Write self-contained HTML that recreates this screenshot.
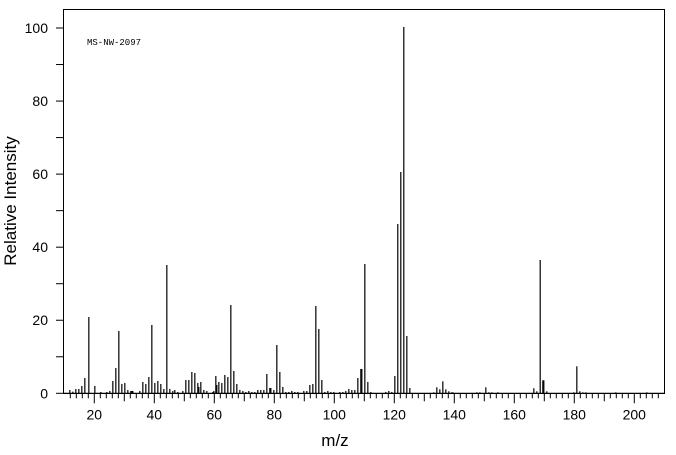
<!DOCTYPE html>
<html><head><meta charset="utf-8"><style>
html,body{margin:0;padding:0;background:#fff;}
svg{display:block;font-family:"Liberation Sans",sans-serif;}
</style></head><body>
<svg id="s" width="676" height="455" xmlns="http://www.w3.org/2000/svg">
<rect x="63.5" y="9.5" width="601" height="384" fill="none" stroke="#000" stroke-width="1"/>
<text x="87" y="45" font-family="Liberation Mono,monospace" font-size="9">MS-NW-2097</text>
<text x="335" y="446" font-size="17" text-anchor="middle">m/z</text>
<text transform="translate(16,201) rotate(-90)" font-size="17" text-anchor="middle">Relative Intensity</text>
<g id="g" stroke="#000"></g>
</svg>
<script>
var g=document.getElementById('g'),s=document.getElementById('s'),NS='http://www.w3.org/2000/svg';
function L(x1,y1,x2,y2,w){var l=document.createElementNS(NS,'line');l.setAttribute('x1',x1);l.setAttribute('y1',y1);l.setAttribute('x2',x2);l.setAttribute('y2',y2);l.setAttribute('stroke-width',w||1);g.appendChild(l);}
function T(x,y,t,a){var e=document.createElementNS(NS,'text');e.setAttribute('x',x);e.setAttribute('y',y);e.setAttribute('font-size','14');e.setAttribute('text-anchor',a);e.textContent=t;s.appendChild(e);}
var B=393.3;
for(var v=0;v<=100;v+=10){var y=B-v*3.653;L(56,y,63,y);if(v%20==0)T(48,y+5,v,'end');}
for(var m=12;m<=210;m+=2){var x=34.3+3*m;if(x>664)break;var len=m%20==0?10:(m%10==0?8:5);L(x,B,x,B+len);if(m%20==0)T(x,B+26,m,'middle');}
L(63,B,665,B);
function add(ox,oy,base,arr){for(var i=0;i<arr.length;i+=2){var x=ox+arr[i]/3+0.5,h=(base-arr[i+1])/3;L(x,B,x,B-h,1.2);}}
add(50,250,430,[58,420,67,425,76,417,85,417,94,408,103,384,115,201,133,408,151,426,169,426,178,423,187,393,196,354,205,243,214,402,223,399,232,420,241,423,244,423,247,423,268,423,277,396,286,402,295,381,304,225,313,399,322,393,331,402,340,417,349,45,358,417,367,423,373,420,382,426,397,423,406,390,415,390,424,366,433,369,442,399,445,411,451,396,460,420,469,423,487,426,490,423,496,378,499,405,505,396,514,399,523,375,532,381,541,165,550,363,559,402,568,420,577,423,586,426,595,423]);
add(240,250,430,[34,426,43,426,52,420,61,420,70,420,79,372,88,414,91,414,100,420,109,285,118,366,127,411,136,426,145,426,154,423,163,426,172,426,190,423,199,423,208,405,217,402,226,168,235,237,244,390,253,426,262,423,271,426,280,426,298,426,307,426,316,423,325,417,334,420,343,420,352,384,361,357,364,357,373,42,382,396,391,426,436,426,445,423,454,426,463,378,499,258,508,414]);
L(397.8,B,397.8,224,1.2);L(400.8,B,400.8,172,1.2);L(403.8,B,403.8,27,1.2);
add(430,330,189,[10,186,19,171,28,177,37,153,46,177,55,183,64,186,67,186,139,186,148,186,166,171,175,186,184,186,202,186,310,174,319,183,337,150,340,150,349,183,430,186,439,108,448,183,457,186,466,186,556,186,649,186]);
L(540.2,B,540.2,260,1.2);
</script>
</body></html>
